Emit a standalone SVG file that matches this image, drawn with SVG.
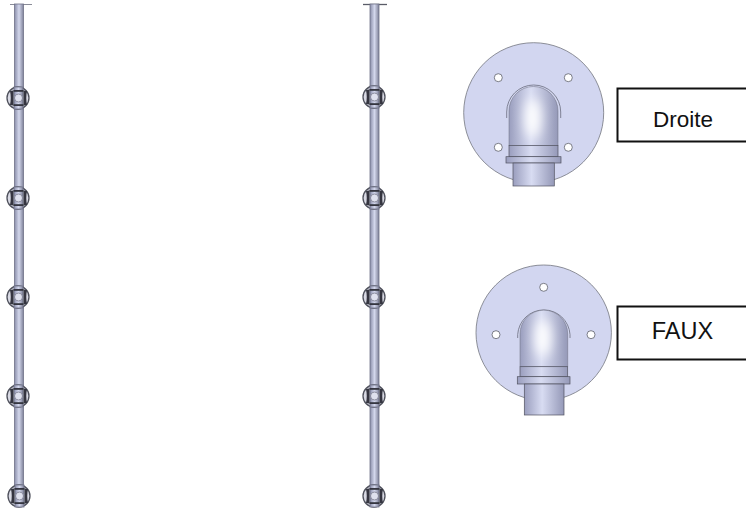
<svg xmlns="http://www.w3.org/2000/svg" width="746" height="510" viewBox="0 0 746 510">
<style>
.label{font-family:"Liberation Sans",Arial,sans-serif;font-size:22.500px;fill:#111}
.box{fill:#fff;stroke:#111;stroke-width:2}
.plate{fill:#d2d6f0;stroke:#74767f;stroke-width:.8}
.hole{fill:#fff;stroke:#5d5f6b;stroke-width:.8}
.edge{fill:none;stroke:#6a6c7c;stroke-width:.8}
.elbow{fill:url(#pipeShade);stroke:#6a6c7c;stroke-width:.5}
.part{fill:url(#pipeShade);stroke:#50525f;stroke-width:.7}
.rod{fill:url(#rodShade);stroke:#6f7288;stroke-width:.8}
.jring{fill:#d9dae4;stroke:#4f515c;stroke-width:1.300}
.jbolt{fill:#34363f}
.jcore{fill:#dfe1ee;stroke:#787a8c;stroke-width:.8}
.glow{fill:#fff;filter:url(#glowBlur)}
</style>
<defs>
<filter id="soft" x="-20%" y="-20%" width="140%" height="140%"><feGaussianBlur stdDeviation=".6"/></filter>
<filter id="glowBlur" x="-80%" y="-80%" width="260%" height="260%"><feGaussianBlur stdDeviation="6"/></filter>
<linearGradient id="pipeShade" x1="0" x2="1" y1="0" y2="0">
<stop offset="0" stop-color="#9a9ebe"/><stop offset=".45" stop-color="#d8dcf2"/><stop offset="1" stop-color="#9599b8"/>
</linearGradient>
<linearGradient id="rodShade" x1="0" x2="1" y1="0" y2="0">
<stop offset="0" stop-color="#8a8eaa"/><stop offset=".5" stop-color="#d3d7ec"/><stop offset="1" stop-color="#7f8299"/>
</linearGradient>
<g id="joint" filter="url(#soft)">
<circle class="jring" r="11"/>
<rect class="rod" x="-4" y="-11" width="9" height="22"/>
<path class="jbolt" d="M-8-7L-4.500-7.500V7.500L-8 7C-7 2-7-2-8-7Z"/>
<path class="jbolt" d="M9-7L5.500-7.500V7.500L9 7C8 2 8-2 9-7Z"/>
<rect class="jbolt" x="-4.500" y="-8" width="10" height="1.800"/>
<rect class="jbolt" x="-4.500" y="6.200" width="10" height="1.800"/>
<circle class="jcore" cx=".5" r="4"/>
</g>
</defs>
<g id="column-left">
<path d="M10 4.500H32" stroke="#8a8c98" stroke-width="1" fill="none"/>
<rect class="rod" x="14.500" y="4" width="9" height="488"/>
<use href="#joint" x="18" y="98"/>
<use href="#joint" x="18" y="198"/>
<use href="#joint" x="18" y="297"/>
<use href="#joint" x="18" y="396"/>
<use href="#joint" x="19" y="496"/>
</g>
<g id="column-right">
<path d="M363 4.500H387" stroke="#5a5c68" stroke-width="1.300" fill="none"/>
<rect class="rod" x="370" y="4" width="9" height="488"/>
<use href="#joint" x="374" y="97"/>
<use href="#joint" x="374" y="198"/>
<use href="#joint" x="374" y="297"/>
<use href="#joint" x="374" y="396"/>
<use href="#joint" x="374" y="496"/>
</g>
<g id="flange-droite">
<circle class="plate" cx="533.700" cy="112.700" r="70"/>
<circle class="hole" cx="498.300" cy="77.700" r="4"/>
<circle class="hole" cx="568.300" cy="77.700" r="4"/>
<circle class="hole" cx="498.300" cy="147.300" r="4"/>
<circle class="hole" cx="568.300" cy="147.300" r="4"/>
<path class="edge" d="M506.700 118V112A27 27 0 0 1 560.700 112V118"/>
<path class="elbow" d="M509 145.500V111A24.500 24.500 0 0 1 558 111V145.500Z"/>
<ellipse class="glow" cx="533" cy="118" rx="8" ry="20"/>
<rect class="part" x="509" y="145.500" width="49" height="11.200"/>
<rect class="part" x="506" y="156.700" width="55" height="6.300"/>
<rect class="part" x="513" y="163" width="41.300" height="23" stroke="none"/>
</g>
<g id="label-droite">
<path class="box" d="M746 88.500H617.500V141.500H746"/>
<text class="label" x="653" y="126.700">Droite</text>
</g>
<g id="flange-faux">
<circle class="plate" cx="543.700" cy="332.700" r="67.700"/>
<circle class="hole" cx="543.700" cy="287.300" r="4"/>
<circle class="hole" cx="496" cy="334.700" r="4"/>
<circle class="hole" cx="591" cy="334.700" r="4"/>
<path class="edge" d="M517.700 338V334.500A26.200 26.200 0 0 1 570 334.500V338"/>
<path class="elbow" d="M520 366.700V334A23.850 23.850 0 0 1 567.700 334V366.700Z"/>
<ellipse class="glow" cx="543" cy="338" rx="8" ry="19"/>
<rect class="part" x="520" y="366.700" width="47.700" height="10"/>
<rect class="part" x="517.300" y="376.700" width="52.700" height="7.300"/>
<rect class="part" x="524.300" y="384" width="39.700" height="31" stroke="none"/>
</g>
<g id="label-faux">
<path class="box" d="M746 306.500H617.500V359.500H746"/>
<text class="label" x="651.700" y="339" style="font-size:23.500px">FAUX</text>
</g>
</svg>
